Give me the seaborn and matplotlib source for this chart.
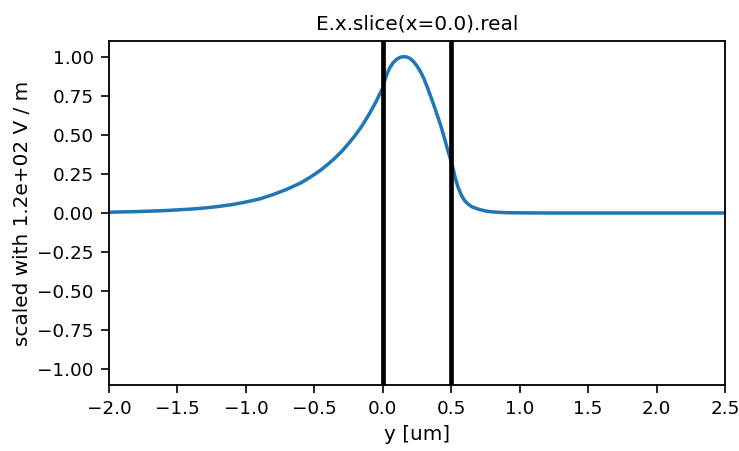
import matplotlib
matplotlib.use("Agg")
import matplotlib.pyplot as plt
import seaborn as sns
import pandas as pd

# Position along y [um]
y_um = [-2.0, -1.8, -1.6, -1.4, -1.3, -1.2, -1.1, -1.0, -0.9, -0.8, -0.7,
        -0.6, -0.55, -0.5, -0.45, -0.4, -0.35, -0.3, -0.25, -0.2, -0.15, -0.1, -0.05,
        0.0, 0.0125, 0.025, 0.0375, 0.05, 0.075, 0.10, 0.125, 0.15, 0.175, 0.20,
        0.225, 0.25, 0.275, 0.30, 0.325, 0.35, 0.375, 0.40, 0.425, 0.45, 0.475,
        0.50, 0.515, 0.53, 0.55, 0.575, 0.60, 0.625, 0.65, 0.70, 0.75, 0.80, 0.90,
        1.0, 1.2, 1.5, 2.0, 2.5]
# Scaled field (real part of E.x)
field = [0.005, 0.009, 0.015, 0.025, 0.032, 0.042, 0.054, 0.070, 0.090, 0.118, 0.152,
         0.192, 0.218, 0.246, 0.277, 0.312, 0.351, 0.394, 0.444, 0.498, 0.560, 0.631, 0.711,
         0.800, 0.843, 0.875, 0.903, 0.927, 0.960, 0.982, 0.995, 1.000, 0.998, 0.988,
         0.968, 0.940, 0.905, 0.860, 0.805, 0.745, 0.685, 0.620, 0.555, 0.480, 0.400,
         0.330, 0.280, 0.222, 0.165, 0.112, 0.077, 0.056, 0.040, 0.024, 0.013, 0.007, 0.002,
         0.001, 0.0, 0.0, 0.0, 0.0]
# Material interfaces
interfaces = [0.0, 0.5]

x_ticks = [-2.0, -1.5, -1.0, -0.5, 0.0, 0.5, 1.0, 1.5, 2.0, 2.5]
y_ticks = [-1.00, -0.75, -0.50, -0.25, 0.00, 0.25, 0.50, 0.75, 1.00]

sns.set_style("ticks")
plt.rcParams.update({
    "font.family": ["DejaVu Sans"],
    "axes.linewidth": 1.1,
    "xtick.major.size": 4.8,
    "ytick.major.size": 4.8,
    "xtick.major.width": 1.0,
    "ytick.major.width": 1.0,
    "xtick.major.pad": 4.3,
    "ytick.major.pad": 4.3,
    "xtick.labelsize": 11,
    "ytick.labelsize": 11,
    "axes.labelsize": 12,
    "axes.titlesize": 12,
    "axes.edgecolor": "black",
    "xtick.color": "black",
    "ytick.color": "black",
    "axes.labelcolor": "black",
    "text.color": "black",
})

df = pd.DataFrame({"y": y_um, "f": field})

DPI = 120
fig, ax = plt.subplots(figsize=(739 / DPI, 451 / DPI), dpi=DPI)
fig.subplots_adjust(left=109/739, right=725/739, top=1-41/451, bottom=1-385/451)

sns.lineplot(data=df, x="y", y="f", ax=ax, color="#1f77b4", linewidth=2.1)
for xi in interfaces:
    ax.axvline(xi, color="black", linewidth=2.8)

ax.set_xlim(-2.0, 2.5)
ax.set_ylim(-1.1, 1.1)
ax.set_xticks(x_ticks)
ax.set_xticklabels([f"{v:.1f}".replace("-", "\u2212") for v in x_ticks])
ax.set_yticks(y_ticks)
ax.set_yticklabels([f"{v:.2f}".replace("-", "\u2212") for v in y_ticks])
ax.set_xlabel("y [um]", labelpad=4)
ax.set_ylabel("scaled with 1.2e+02 V / m", labelpad=3)
ax.set_title("E.x.slice(x=0.0).real", pad=7)

fig.savefig("out.png", dpi=DPI)
